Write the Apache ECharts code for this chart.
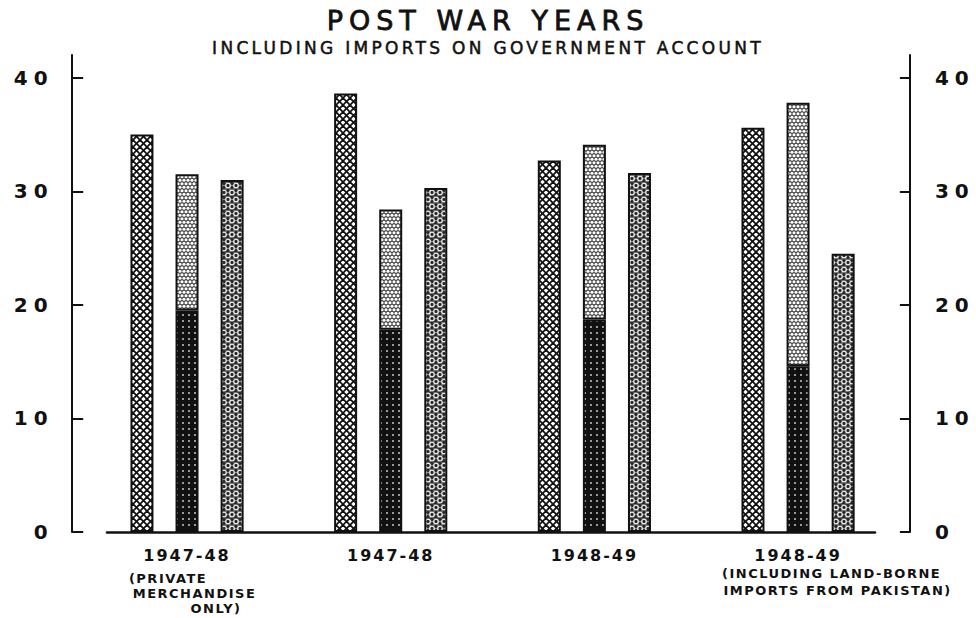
<!DOCTYPE html>
<html>
<head>
<meta charset="utf-8">
<script src="https://cdn.jsdelivr.net/npm/echarts@6/dist/echarts.min.js"></script>
<style>
html,body{margin:0;padding:0;background:#fff}
#chart{width:976px;height:618px}
#chart text[style*="27px"]{letter-spacing:6px}
#chart text[style*="17px"]{letter-spacing:3.3px}
#chart text[style*="20px"]{letter-spacing:6px}
#chart text[style*="16px"]{letter-spacing:2px}
#chart text[style*="13px"]{letter-spacing:1.5px}
</style>
</head>
<body>
<div id="chart"></div>
<script>
// ---- data ----
const titleText = 'POST WAR YEARS';
const subtitleText = 'INCLUDING IMPORTS ON GOVERNMENT ACCOUNT';
const categories = ['1947-48', '1947-48', '1948-49', '1948-49'];
const categoryNotes = [
  ['(PRIVATE', 'MERCHANDISE', 'ONLY)'],
  [],
  [],
  ['(INCLUDING LAND-BORNE', 'IMPORTS FROM PAKISTAN)']
];
const crossHatchValues = [35.0, 38.6, 32.7, 35.6];
const stippleDarkValues = [19.5, 17.8, 18.7, 14.6];
const stippleLightValues = [12.0, 10.6, 15.4, 23.2];
const circleValues = [31.0, 30.3, 31.6, 24.5];
const yTickValues = [0, 10, 20, 30, 40];

// ---- layout / style ----
const noteLineStyles = [['n1a', 'n1b', 'n1c'], [], [], ['n4a', 'n4b']];
const FONT = 'DejaVu Sans';
const INK = '#111';

function makeTile(w, h, draw) {
  const c = document.createElement('canvas');
  c.width = w; c.height = h;
  const g = c.getContext('2d');
  draw(g, w, h);
  return { image: c, repeat: 'repeat', imageWidth: w, imageHeight: h };
}
const crossPattern = makeTile(7, 7, (g, w, h) => {
  g.fillStyle = '#fff'; g.fillRect(0, 0, w, h);
  g.strokeStyle = INK; g.lineWidth = 1.8;
  for (const k of [-w, 0, w]) {
    g.beginPath(); g.moveTo(k, 0); g.lineTo(k + w, h); g.stroke();
    g.beginPath(); g.moveTo(k + w, 0); g.lineTo(k, h); g.stroke();
  }
});
const lightPattern = makeTile(4, 7, (g, w, h) => {
  g.fillStyle = '#444'; g.fillRect(0, 0, w, h);
  g.fillStyle = '#fff';
  for (const [x, y] of [[2, 1.75], [0, 5.25], [4, 5.25]]) {
    g.beginPath(); g.arc(x, y, 1.55, 0, Math.PI * 2); g.fill();
  }
});
const darkPattern = makeTile(6, 6, (g, w, h) => {
  g.fillStyle = INK; g.fillRect(0, 0, w, h);
  g.fillStyle = '#ddd';
  g.beginPath(); g.arc(3, 3, 0.9, 0, Math.PI * 2); g.fill();
});
const circlePattern = makeTile(8, 14, (g, w, h) => {
  g.fillStyle = '#2a2a2a'; g.fillRect(0, 0, w, h);
  const rings = [[4, 3.5], [0, 10.5], [8, 10.5]];
  g.strokeStyle = '#f2f2f2'; g.lineWidth = 1.3;
  for (const [x, y] of rings) {
    g.beginPath(); g.arc(x, y, 2.3, 0, Math.PI * 2); g.stroke();
  }
  g.fillStyle = '#cfcfcf';
  for (const [x, y] of [[0, 3.5], [8, 3.5], [4, 10.5], [2, 7], [6, 7], [2, 0], [6, 14]]) {
    g.beginPath(); g.arc(x, y, 0.7, 0, Math.PI * 2); g.fill();
  }
});

const chart = echarts.init(document.getElementById('chart'), null, { renderer: 'svg' });

const noteRich = {
  m: { fontFamily: FONT, fontSize: 16, fontWeight: 'bold', color: INK, lineHeight: 30 },
  n1a: { fontFamily: FONT, fontSize: 13, fontWeight: 'bold', color: INK, lineHeight: 15, padding: [0, 38, 0, 0] },
  n1b: { fontFamily: FONT, fontSize: 13, fontWeight: 'bold', color: INK, lineHeight: 15, padding: [0, 0, 0, 15] },
  n1c: { fontFamily: FONT, fontSize: 13, fontWeight: 'bold', color: INK, lineHeight: 15, padding: [0, 0, 0, 58] },
  n4a: { fontFamily: FONT, fontSize: 13, fontWeight: 'bold', color: INK, lineHeight: 5, padding: [0, 0, 0, 67] },
  n4b: { fontFamily: FONT, fontSize: 13, fontWeight: 'bold', color: INK, lineHeight: 29, padding: [0, 0, 0, 79] }
};

const yLabelStyle = { fontFamily: FONT, fontSize: 20, fontWeight: 'bold', color: INK };
const barBorder = { borderColor: INK, borderWidth: 2 };

const option = {
  backgroundColor: '#fff',
  animation: false,
  title: {
    text: titleText,
    subtext: subtitleText,
    left: 'center',
    top: 6.5,
    padding: 0,
    itemGap: 4,
    textStyle: { fontFamily: FONT, fontSize: 27, fontWeight: 'normal', color: INK, lineHeight: 28,
      textBorderColor: INK, textBorderWidth: 0.8 },
    subtextStyle: { fontFamily: FONT, fontSize: 17, fontWeight: 'normal', color: INK, lineHeight: 18,
      textBorderColor: INK, textBorderWidth: 0.5 }
  },
  grid: [
    { left: 85.2, right: 76.1, top: 55, bottom: 86 },
    { left: 107, right: 101, top: 55, bottom: 86 }
  ],
  xAxis: [
    {
      gridIndex: 0,
      type: 'category',
      data: categories,
      axisLine: { show: false },
      axisTick: { show: false },
      splitLine: { show: false },
      axisLabel: {
        interval: 0,
        margin: 8.5,
        formatter: (value, idx) => {
          let s = '{m|' + value + '}';
          categoryNotes[idx].forEach((line, j) => {
            s += '\n{' + noteLineStyles[idx][j] + '|' + line + '}';
          });
          return s;
        },
        rich: noteRich
      }
    },
    {
      gridIndex: 1,
      type: 'value',
      min: 0,
      max: 1,
      axisLine: { show: true, onZero: false, lineStyle: { color: INK, width: 2.5 } },
      axisTick: { show: false },
      axisLabel: { show: false },
      splitLine: { show: false }
    }
  ],
  yAxis: [
    {
      gridIndex: 0,
      type: 'value',
      position: 'left',
      offset: 13,
      min: 0,
      max: 42,
      axisLine: { show: true, lineStyle: { color: INK, width: 2 } },
      axisTick: { show: true, inside: true, length: 11, customValues: yTickValues, lineStyle: { color: INK, width: 2 } },
      axisLabel: Object.assign({ customValues: yTickValues, margin: 18.5 }, yLabelStyle),
      splitLine: { show: false }
    },
    {
      gridIndex: 0,
      type: 'value',
      position: 'right',
      offset: 10,
      min: 0,
      max: 42,
      axisLine: { show: true, lineStyle: { color: INK, width: 2 } },
      axisTick: { show: true, inside: true, length: 10, customValues: yTickValues, lineStyle: { color: INK, width: 2 } },
      axisLabel: Object.assign({ customValues: yTickValues, margin: 25 }, yLabelStyle),
      splitLine: { show: false }
    },
    {
      gridIndex: 1,
      type: 'value',
      show: false,
      min: 0,
      max: 1
    }
  ],
  series: [
    {
      type: 'bar', xAxisIndex: 0, yAxisIndex: 0,
      data: crossHatchValues,
      barWidth: 23, barGap: '96%',
      itemStyle: Object.assign({ color: crossPattern }, barBorder)
    },
    {
      type: 'bar', xAxisIndex: 0, yAxisIndex: 0, stack: 'imports',
      data: stippleDarkValues,
      barWidth: 23, barGap: '96%',
      itemStyle: Object.assign({ color: darkPattern }, barBorder)
    },
    {
      type: 'bar', xAxisIndex: 0, yAxisIndex: 0, stack: 'imports',
      data: stippleLightValues,
      barWidth: 23, barGap: '96%',
      itemStyle: Object.assign({ color: lightPattern }, barBorder)
    },
    {
      type: 'bar', xAxisIndex: 0, yAxisIndex: 0,
      data: circleValues,
      barWidth: 23, barGap: '96%',
      itemStyle: Object.assign({ color: circlePattern }, barBorder)
    }
  ]
};
chart.setOption(option);
</script>
</body>
</html>
